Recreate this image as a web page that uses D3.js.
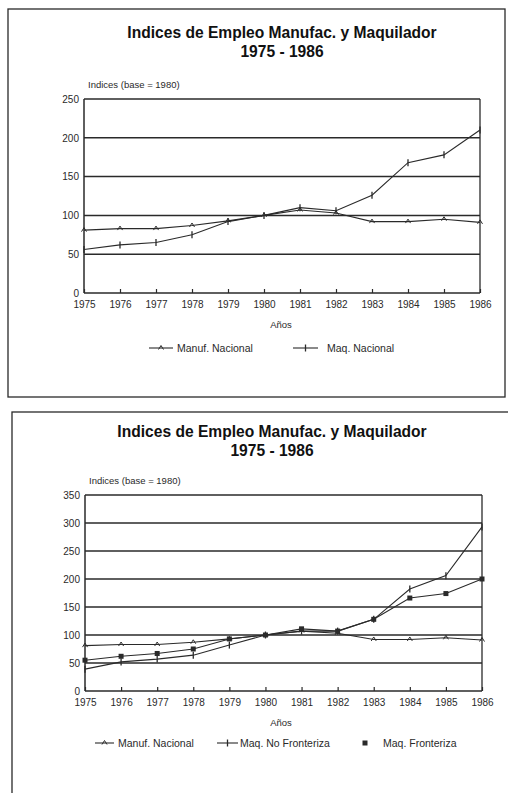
<!DOCTYPE html>
<html>
<head>
<meta charset="utf-8">
<script src="https://cdn.jsdelivr.net/npm/d3@7"></script>
<style>
  html, body { margin: 0; padding: 0; background: #fff; }
  svg { display: block; font-family: "Liberation Sans", Arial, sans-serif; }
</style>
</head>
<body>
<svg id="chart" width="508" height="793"></svg>
<script>
// ---- data ----
const years = [1975, 1976, 1977, 1978, 1979, 1980, 1981, 1982, 1983, 1984, 1985, 1986];
const manufNacional = [81, 83, 83, 87, 93, 100, 107, 103, 92, 92, 95, 91];
const maqNacional = [56, 62, 65, 75, 92, 100, 110, 106, 126, 168, 178, 210];
const maqNoFronteriza = [39, 52, 57, 64, 82, 100, 107, 107, 128, 182, 206, 293];
const maqFronteriza = [55, 62, 67, 75, 93, 100, 111, 107, 128, 166, 174, 200];
const yTicks1 = [0, 50, 100, 150, 200, 250];
const yTicks2 = [0, 50, 100, 150, 200, 250, 300, 350];
const titleLine1 = "Indices de Empleo Manufac. y Maquilador";
const titleLine2 = "1975 - 1986";
const yLabel = "Indices (base = 1980)";
const xLabel = "Años";

const ink = "#2a2a2a";
const svg = d3.select("#chart");

// frames
svg.append("rect").attr("x", 8).attr("y", 9).attr("width", 497).attr("height", 388)
  .attr("fill", "none").attr("stroke", ink).attr("stroke-width", 1.3);
svg.append("rect").attr("x", 12).attr("y", 412).attr("width", 510).attr("height", 400)
  .attr("fill", "none").attr("stroke", ink).attr("stroke-width", 1.3);

function marker(g, type, x, y) {
  if (type === "tri") {
    g.append("path").attr("d", `M${x - 2.5},${y + 1.5} L${x},${y - 2.5} L${x + 2.5},${y + 1.5}`)
      .attr("fill", "none").attr("stroke", ink).attr("stroke-width", 1);
  } else if (type === "plus") {
    g.append("path").attr("d", `M${x},${y - 3.5} V${y + 3.5}`)
      .attr("stroke", ink).attr("stroke-width", 1.3);
  } else if (type === "sq") {
    g.append("rect").attr("x", x - 2.5).attr("y", y - 2.5).attr("width", 5).attr("height", 5)
      .attr("fill", ink);
  }
}

function drawChart(cfg) {
  const g = svg.append("g");
  const x = d3.scaleLinear().domain([years[0], years[years.length - 1]]).range([cfg.left, cfg.right]);
  const y = d3.scaleLinear().domain([0, cfg.yMax]).range([cfg.bottom, cfg.top]);

  // titles
  g.append("text").attr("x", cfg.titleX).attr("y", cfg.titleY).attr("text-anchor", "middle")
    .attr("font-size", 15.6).attr("font-weight", "bold").attr("fill", "#111").text(titleLine1);
  g.append("text").attr("x", cfg.titleX).attr("y", cfg.titleY + 19).attr("text-anchor", "middle")
    .attr("font-size", 15.6).attr("font-weight", "bold").attr("fill", "#111").text(titleLine2);
  g.append("text").attr("x", cfg.left + 4).attr("y", cfg.top - 11)
    .attr("font-size", 9.5).attr("fill", ink).text(yLabel);

  // gridlines
  g.append("g").selectAll("line").data(cfg.yTicks.filter(d => d > 0)).join("line")
    .attr("x1", cfg.left).attr("x2", cfg.right)
    .attr("y1", d => y(d)).attr("y2", d => y(d))
    .attr("stroke", ink).attr("stroke-width", 1.5);

  // axes frame
  g.append("line").attr("x1", cfg.left).attr("x2", cfg.left).attr("y1", cfg.top).attr("y2", cfg.bottom)
    .attr("stroke", ink).attr("stroke-width", 1.5);
  g.append("line").attr("x1", cfg.right).attr("x2", cfg.right).attr("y1", cfg.top).attr("y2", cfg.bottom)
    .attr("stroke", ink).attr("stroke-width", 1.3);
  g.append("line").attr("x1", cfg.left).attr("x2", cfg.right).attr("y1", cfg.bottom).attr("y2", cfg.bottom)
    .attr("stroke", ink).attr("stroke-width", 1.5);

  // y axis labels
  const yAxis = d3.axisLeft(y).tickValues(cfg.yTicks).tickSize(0).tickPadding(5);
  const ya = g.append("g").attr("transform", `translate(${cfg.left},0)`).call(yAxis);
  ya.select(".domain").remove();
  ya.selectAll("text").attr("font-size", 10).attr("fill", ink).attr("font-family", "Liberation Sans, Arial, sans-serif");

  // x axis (inward ticks)
  const xAxis = d3.axisBottom(x).tickValues(years).tickFormat(d3.format("d")).tickSize(-4).tickPadding(8);
  const xa = g.append("g").attr("transform", `translate(0,${cfg.bottom})`).call(xAxis);
  xa.select(".domain").remove();
  xa.selectAll(".tick line").attr("stroke", ink).attr("stroke-width", 1.2);
  xa.selectAll("text").attr("font-size", 10).attr("fill", ink).attr("font-family", "Liberation Sans, Arial, sans-serif");

  g.append("text").attr("x", cfg.xLabelX).attr("y", cfg.bottom + 35).attr("text-anchor", "middle")
    .attr("font-size", 9.5).attr("fill", ink).text(xLabel);

  // series
  const line = d3.line().x((d, i) => x(years[i])).y(d => y(d));
  cfg.series.forEach(s => {
    g.append("path").datum(s.values).attr("d", line)
      .attr("fill", "none").attr("stroke", ink).attr("stroke-width", 1.1);
    s.values.forEach((v, i) => marker(g, s.marker, x(years[i]), y(v)));
  });

  // legend
  cfg.series.forEach(s => {
    const L = s.legend;
    if (s.marker !== "sq") {
      g.append("line").attr("x1", L.x1).attr("x2", L.x2).attr("y1", cfg.legendY).attr("y2", cfg.legendY)
        .attr("stroke", ink).attr("stroke-width", 1.1);
    }
    marker(g, s.marker, (L.x1 + L.x2) / 2, cfg.legendY);
    g.append("text").attr("x", L.tx).attr("y", cfg.legendY + 3.5).attr("font-size", 10.5)
      .attr("fill", ink).text(s.name);
  });
}

drawChart({
  left: 84, right: 480, top: 99, bottom: 293, yMax: 250, yTicks: yTicks1,
  titleX: 282, titleY: 38, xLabelX: 281, legendY: 348,
  series: [
    { name: "Manuf. Nacional", values: manufNacional, marker: "tri", legend: { x1: 149, x2: 173, tx: 177 } },
    { name: "Maq. Nacional", values: maqNacional, marker: "plus", legend: { x1: 293, x2: 318, tx: 327 } }
  ]
});

drawChart({
  left: 85, right: 482, top: 495, bottom: 691, yMax: 350, yTicks: yTicks2,
  titleX: 272, titleY: 437, xLabelX: 281, legendY: 743,
  series: [
    { name: "Manuf. Nacional", values: manufNacional, marker: "tri", legend: { x1: 95, x2: 114, tx: 118 } },
    { name: "Maq. No Fronteriza", values: maqNoFronteriza, marker: "plus", legend: { x1: 217, x2: 238, tx: 240 } },
    { name: "Maq. Fronteriza", values: maqFronteriza, marker: "sq", legend: { x1: 365, x2: 365, tx: 383 } }
  ]
});
</script>
</body>
</html>
